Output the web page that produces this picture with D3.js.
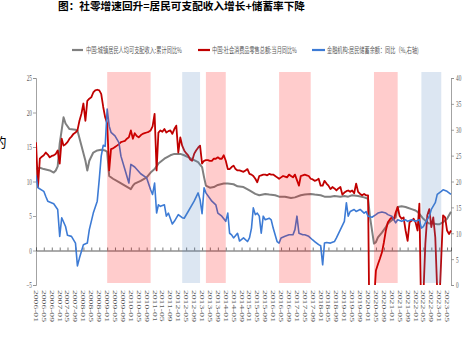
<!DOCTYPE html>
<html><head><meta charset="utf-8">
<script src="https://cdn.jsdelivr.net/npm/d3@7"></script>
<style>body{margin:0;background:#fff;overflow:hidden}svg{display:block}</style>
</head><body>
<svg id="c" width="463" height="348"></svg>
<script>
const title = "图：社零增速回升=居民可支配收入增长+储蓄率下降";
const sideText = "的";
const seriesNames = ["中国:城镇居民人均可支配收入:累计同比%", "中国:社会消费品零售总额:当月同比%", "金融机构:居民储蓄余额：同比（%,右轴)"];
const leftTicks = [25, 20, 15, 10, 5, 0, -5];
const rightTicks = [40, 35, 30, 25, 20, 15, 10, 5, 0];
const xTickLabels = [
 "2006-01","2006-05","2006-09","2007-01","2007-05","2007-09","2008-01","2008-05","2008-09",
 "2009-01","2009-05","2009-09","2010-01","2010-05","2010-09","2011-01","2011-05","2011-09",
 "2012-01","2012-05","2012-09","2013-01","2013-05","2013-09","2014-01","2014-05","2014-09",
 "2015-01","2015-05","2015-09","2016-01","2016-05","2016-09","2017-01","2017-05","2017-09",
 "2018-01","2018-05","2018-09","2019-01","2019-05","2019-09","2020-01","2020-05","2020-09",
 "2021-01","2021-05","2021-09","2022-01","2022-05","2022-09","2023-01","2023-05"];

// Retail sales yoy (%), monthly from 2006-01 to 2023-07 (left axis)
const retailStart = "2006-01";
const retailValues = [
 15.7,9.2,13.3,13.6,13.8,14.2,13.9,13.5,13.7,13.8,14.0,14.5,
 12.6,16.2,15.2,15.4,15.7,16.2,16.5,16.9,17.1,17.4,18.8,19.8,
 21.3,18.8,21.7,22.0,22.2,22.9,23.2,23.3,23.2,22.7,20.8,19.3,
 18.4,11.6,14.7,14.8,15.0,15.2,15.4,15.7,15.8,15.9,16.2,16.4,
 17.4,16.2,17.0,16.6,16.4,16.7,16.9,17.0,17.1,17.2,17.4,18.0,
 19.8,11.6,17.1,17.4,17.2,17.6,17.1,17.3,17.4,16.9,17.6,18.1,
 14.2,16.4,15.2,14.5,14.1,13.8,13.2,13.0,14.0,14.5,14.9,15.2,
 12.6,13.0,13.1,13.1,13.0,13.0,13.3,13.3,13.5,13.3,13.3,13.8,
 13.0,11.8,11.8,12.1,12.3,11.8,11.6,11.6,11.5,11.4,11.6,11.8,
 11.1,11.0,10.8,10.4,9.9,10.8,10.9,11.0,11.0,10.9,11.1,11.0,
 11.0,10.8,10.6,10.4,10.6,10.8,10.7,10.6,11.0,10.8,10.6,11.0,
 10.2,9.4,10.8,10.9,11.0,10.9,10.8,10.4,10.3,10.1,10.2,10.4,
 9.4,9.4,10.1,9.7,9.4,8.9,9.2,9.0,8.7,9.0,9.2,8.1,
 8.4,8.6,8.7,8.5,8.7,8.3,9.7,8.5,8.2,8.0,8.2,8.0,
 8.0,-20.5,-15.8,-7.5,-2.9,-2.0,-1.2,-0.3,1.2,2.9,4.1,4.5,
 4.8,4.5,5.5,6.3,5.0,4.6,4.8,2.9,1.4,4.1,4.3,4.6,
 4.1,2.9,6.8,-11.1,-6.7,1.0,5.1,6.0,3.4,4.8,1.9,-5.9,
 -8.0,-1.0,5.1,4.8,2.9,2.4,2.9];

// Urban disposable income per capita cumulative yoy (%) (left axis)
const incomeData = [
 ["2006-01",11.8],["2006-03",12.0],["2006-05",11.8],["2006-08",11.6],["2006-10",11.3],["2006-11",11.6],["2006-12",12.2],
 ["2007-01",15.5],["2007-03",19.3],["2007-04",18.4],["2007-06",17.6],["2007-09",17.5],["2007-10",17.4],["2007-12",15.2],
 ["2008-02",13.0],["2008-03",11.6],["2008-04",13.0],["2008-06",14.2],["2008-08",14.5],["2008-10",14.6],["2008-12",14.5],
 ["2009-01",14.3],["2009-02",10.8],["2009-04",10.4],["2009-07",9.9],["2009-10",9.4],["2010-01",8.9],["2010-02",9.4],
 ["2010-03",9.7],["2010-06",10.1],["2010-09",10.6],["2010-11",11.3],["2011-01",11.8],["2011-03",12.6],["2011-06",13.3],
 ["2011-09",13.8],["2011-11",14.0],["2012-02",14.0],["2012-04",13.8],["2012-07",13.4],["2012-09",13.1],["2012-11",12.8],
 ["2013-01",12.1],["2013-02",10.6],["2013-03",9.4],["2013-05",9.1],["2013-07",9.2],["2013-09",9.5],["2013-12",9.7],
 ["2014-02",9.7],["2014-05",9.6],["2014-07",9.3],["2014-10",9.2],["2015-01",8.7],["2015-04",8.2],["2015-06",8.0],
 ["2015-09",8.2],["2015-11",8.1],["2016-02",8.0],["2016-04",7.8],["2016-07",7.8],["2016-10",7.6],["2016-12",7.7],
 ["2017-03",8.0],["2017-05",8.1],["2017-08",8.2],["2017-10",8.1],["2018-01",8.0],["2018-03",7.8],["2018-06",7.8],
 ["2018-08",7.9],["2018-11",7.8],["2019-01",7.9],["2019-03",7.8],["2019-05",8.0],["2019-08",7.9],["2019-11",7.7],
 ["2020-01",7.5],["2020-02",4.8],["2020-04",1.0],["2020-05",1.2],["2020-06",1.9],["2020-08",2.6],["2020-10",3.4],
 ["2020-11",3.9],["2021-01",4.4],["2021-03",4.8],["2021-04",6.3],["2021-06",6.4],["2021-08",6.3],["2021-09",6.2],
 ["2021-11",6.0],["2022-01",5.8],["2022-02",5.6],["2022-03",5.3],["2022-05",4.6],["2022-07",4.1],["2022-08",3.9],
 ["2022-10",3.9],["2022-12",3.8],["2023-01",3.8],["2023-03",4.1],["2023-05",4.6],["2023-07",5.6]];

// Household savings deposits yoy (%) (right axis)
const savingsData = [
 ["2006-01",21.2],["2006-02",18.8],["2006-05",18.1],["2006-06",17.1],["2006-07",16.2],["2006-10",15.7],["2006-12",14.6],
 ["2007-01",9.4],["2007-02",13.0],["2007-04",11.3],["2007-05",9.6],["2007-07",9.4],["2007-09",8.1],["2007-10",3.7],
 ["2007-11",5.2],["2008-01",7.8],["2008-03",8.1],["2008-04",10.7],["2008-06",13.9],["2008-08",16.2],["2008-09",20.4],
 ["2008-10",24.9],["2008-11",27.0],["2008-12",26.8],["2009-01",34.0],["2009-02",30.7],["2009-03",29.5],["2009-05",28.8],
 ["2009-07",27.5],["2009-08",24.9],["2009-10",22.3],["2009-12",19.7],["2010-01",23.3],["2010-03",22.8],["2010-06",21.5],
 ["2010-09",20.7],["2010-11",18.4],["2010-12",17.5],["2011-01",19.7],["2011-02",13.9],["2011-03",15.5],["2011-04",15.2],
 ["2011-06",15.5],["2011-07",13.3],["2011-08",13.9],["2011-10",11.8],["2011-11",12.3],["2012-01",13.6],["2012-03",13.0],
 ["2012-04",12.9],["2012-06",14.2],["2012-09",16.2],["2012-11",17.8],["2012-12",16.5],["2013-01",13.8],["2013-02",18.8],
 ["2013-03",17.8],["2013-06",16.2],["2013-08",15.5],["2013-09",13.9],["2013-11",13.3],["2014-01",12.3],["2014-02",13.9],
 ["2014-03",10.0],["2014-04",9.7],["2014-05",9.1],["2014-07",10.0],["2014-08",8.5],["2014-10",9.1],["2014-12",8.4],
 ["2015-01",9.1],["2015-02",11.0],["2015-03",14.9],["2015-04",13.6],["2015-05",13.9],["2015-06",13.3],["2015-07",10.0],
 ["2015-08",13.3],["2015-09",12.6],["2015-11",12.9],["2015-12",12.6],["2016-01",11.0],["2016-03",8.4],["2016-04",8.1],
 ["2016-05",9.1],["2016-07",9.4],["2016-09",9.7],["2016-11",9.7],["2016-12",10.7],["2017-01",13.3],["2017-02",10.0],
 ["2017-04",9.7],["2017-05",9.7],["2017-07",9.4],["2017-09",8.7],["2017-10",8.4],["2017-12",7.8],["2018-01",7.6],
 ["2018-02",3.9],["2018-03",8.1],["2018-04",8.2],["2018-06",8.1],["2018-08",8.4],["2018-09",9.1],["2018-11",10.7],
 ["2019-01",12.3],["2019-02",15.9],["2019-03",13.3],["2019-04",14.2],["2019-06",14.6],["2019-07",14.2],["2019-09",14.6],
 ["2019-11",13.9],["2019-12",14.2],["2020-01",13.3],["2020-03",13.1],["2020-05",13.6],["2020-06",13.9],["2020-08",14.1],
 ["2020-10",13.9],["2020-11",13.6],["2021-01",13.3],["2021-03",12.0],["2021-04",12.6],["2021-06",12.3],["2021-08",12.6],
 ["2021-09",12.3],["2021-11",12.6],["2022-01",12.3],["2022-03",12.6],["2022-04",11.0],["2022-05",11.3],["2022-06",12.0],
 ["2022-08",13.3],["2022-09",14.6],["2022-11",15.9],["2022-12",17.5],["2023-02",18.1],["2023-03",18.4],["2023-05",18.1],
 ["2023-07",17.5]];

const pinkPeriods = [["2009-01","2010-11"],["2013-03","2014-01"],["2016-04","2017-08"],["2020-04","2021-04"]];
const bluePeriods = [["2012-03","2012-12"],["2022-04","2023-02"]];

const parse = d3.timeParse("%Y-%m");
const svg = d3.select("#c");
const W = {l:36, r:451, t:78, b:285};

const x = d3.scaleTime().domain([parse("2006-01"), parse("2023-07")]).range([W.l, W.r]);
const yL = d3.scaleLinear().domain([-5, 25]).range([W.b, W.t]);
const yR = d3.scaleLinear().domain([0, 40]).range([W.b, W.t]);

const cjk = "'Noto Sans CJK SC','Noto Sans',sans-serif";
const serif = "'Liberation Serif','DejaVu Serif',serif";

// title & stray document text
svg.append("text").attr("x", 58).attr("y", 10).attr("font-family", cjk).attr("font-weight", 700)
  .attr("font-size", 10.5).attr("textLength", 247).attr("lengthAdjust", "spacingAndGlyphs").attr("fill", "#000").text(title);
svg.append("text").attr("x", -6.5).attr("y", 147).attr("font-family", cjk).attr("font-size", 13).attr("fill", "#000").text(sideText);

// legend
const legendItems = [
  {name: seriesNames[0], color: "#808080", x0: 72, x1: 83, tx: 86, tw: 96},
  {name: seriesNames[1], color: "#c00000", x0: 198, x1: 210, tx: 212, tw: 85},
  {name: seriesNames[2], color: "#3d7bd5", x0: 312, x1: 325, tx: 327, tw: 92}
];
const lg = svg.append("g");
legendItems.forEach(d => {
  lg.append("line").attr("x1", d.x0).attr("x2", d.x1).attr("y1", 50).attr("y2", 50)
    .attr("stroke", d.color).attr("stroke-width", 2.2);
  const t = lg.append("text").attr("font-family", cjk).attr("font-size", 8)
    .attr("fill", "#595959").text(d.name);
  const natural = t.node().getComputedTextLength();
  t.attr("transform", `translate(${d.tx},52.8) scale(${d.tw / natural},1)`);
});

// clip
svg.append("defs").append("clipPath").attr("id", "plotclip").append("rect")
  .attr("x", W.l).attr("y", W.t - 8).attr("width", W.r - W.l + 1).attr("height", W.b - W.t + 8);

// left axis
const gL = svg.append("g").attr("transform", `translate(${W.l},0)`)
  .call(d3.axisLeft(yL).tickValues(leftTicks).tickSize(3).tickFormat(d3.format("d")));
gL.select(".domain").attr("stroke", "#8c8c8c").attr("stroke-width", 0.8);
gL.selectAll(".tick line").attr("stroke", "#8c8c8c").attr("stroke-width", 0.8);
gL.selectAll(".tick text").attr("x", null)
  .attr("transform", "translate(-4,0) scale(0.62,1)").attr("dy", "0.35em")
  .attr("font-family", serif).attr("font-size", 8.5).attr("fill", "#595959");

// right axis
const gR = svg.append("g").attr("transform", `translate(${W.r},0)`)
  .call(d3.axisRight(yR).tickValues(rightTicks).tickSize(3).tickFormat(d3.format("d")));
gR.select(".domain").attr("stroke", "#8c8c8c").attr("stroke-width", 0.8);
gR.selectAll(".tick line").attr("stroke", "#8c8c8c").attr("stroke-width", 0.8);
gR.selectAll(".tick text").attr("x", null)
  .attr("transform", "translate(5,0) scale(0.62,1)").attr("dy", "0.35em")
  .attr("font-family", serif).attr("font-size", 8.5).attr("fill", "#595959");

// zero line with category ticks
const tickDates = xTickLabels.map(parse);
const gX = svg.append("g").attr("transform", `translate(0,${yL(0)})`)
  .call(d3.axisTop(x).tickValues(tickDates).tickSize(3).tickFormat(""));
gX.select(".domain").attr("stroke", "#595959").attr("stroke-width", 1);
gX.selectAll(".tick line").attr("stroke", "#595959").attr("stroke-width", 0.8);

// rotated category labels
svg.append("g").selectAll("text").data(xTickLabels).join("text")
  .attr("transform", d => `translate(${x(parse(d))},290) rotate(90) scale(1,0.6)`)
  .attr("dy", "0.35em").attr("text-anchor", "start")
  .attr("font-family", serif).attr("font-size", 9.6).attr("fill", "#595959").text(d => d);

// lines
const plot = svg.append("g").attr("clip-path", "url(#plotclip)");
const startDate = parse(retailStart);
const retailSeries = retailValues.map((v, i) => [d3.timeMonth.offset(startDate, i), v]);
const lineL = d3.line().x(d => x(d[0])).y(d => yL(d[1]));
const lineR = d3.line().x(d => x(d[0])).y(d => yR(d[1]));

plot.append("path").datum(incomeData.map(d => [parse(d[0]), d[1]]))
  .attr("d", lineL).attr("fill", "none").attr("stroke", "#808080").attr("stroke-width", 2).attr("stroke-linejoin", "round");
plot.append("path").datum(retailSeries)
  .attr("d", lineL).attr("fill", "none").attr("stroke", "#c00000").attr("stroke-width", 1.8).attr("stroke-linejoin", "round");
plot.append("path").datum(savingsData.map(d => [parse(d[0]), d[1]]))
  .attr("d", lineR).attr("fill", "none").attr("stroke", "#3d7bd5").attr("stroke-width", 1.6).attr("stroke-linejoin", "round");

// shaded periods (drawn on top, translucent)
const shadeTop = 72, shadeBottom = 283;
svg.append("g").selectAll("rect").data(pinkPeriods).join("rect")
  .attr("x", d => x(parse(d[0]))).attr("width", d => x(parse(d[1])) - x(parse(d[0])))
  .attr("y", shadeTop).attr("height", shadeBottom - shadeTop).attr("fill", "rgba(255,0,0,0.2)");
svg.append("g").selectAll("rect").data(bluePeriods).join("rect")
  .attr("x", d => x(parse(d[0]))).attr("width", d => x(parse(d[1])) - x(parse(d[0])))
  .attr("y", shadeTop).attr("height", shadeBottom - shadeTop).attr("fill", "rgba(79,129,189,0.2)");
</script>
</body></html>
